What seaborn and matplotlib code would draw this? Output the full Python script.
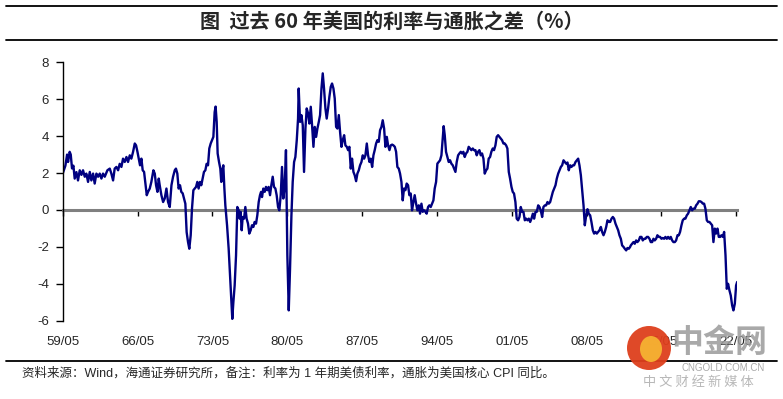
import matplotlib
matplotlib.use("Agg")
import matplotlib.pyplot as plt
from matplotlib.lines import Line2D
from matplotlib.patches import Ellipse
import seaborn as sns
import pandas as pd

# ---------------- data (1-yr Treasury yield minus US core CPI y/y, %) ----------------
yrs_1959 = [1959.33,1959.58,1959.74,1959.83,1959.98,1960.08,1960.20,1960.33,1960.45,1960.61,1960.76,1960.92,
            1961.08,1961.23,1961.39,1961.54,1961.70,1961.86,1962.01,1962.17,1962.32,1962.48,1962.64,1962.79,1962.95,
            1963.10,1963.26,1963.51,1963.73,1963.88,1964.04,1964.19,1964.35,1964.51,1964.66,1964.82,1964.97,
            1965.13,1965.29,1965.44,1965.60,1965.75,1965.91,1966.07,1966.19,1966.32,1966.44,1966.56,1966.69,1966.81,1966.94,
            1967.06,1967.19,1967.31,1967.47,1967.62,1967.81,1967.94,1968.06,1968.19,1968.31,1968.40,1968.56,1968.72,1968.87,
            1969.03,1969.18,1969.34,1969.50,1969.65,1969.81]
val_1959 = [1.97,2.4,3.0,2.6,3.15,3.0,2.25,2.4,1.7,2.05,1.6,2.15,
            1.9,2.15,1.8,1.97,1.52,2.06,1.6,1.97,1.43,1.97,1.8,1.97,1.7,
            1.97,1.8,2.15,2.24,1.97,1.6,2.24,2.33,2.15,2.5,2.33,2.78,
            2.6,2.87,2.6,2.96,2.78,3.15,3.6,3.5,3.15,2.78,2.42,2.78,2.15,2.06,
            1.43,0.8,0.98,1.16,1.52,2.15,1.97,1.34,0.98,1.7,1.34,0.8,0.43,0.62,
            1.16,0.43,0.16,1.34,1.8,2.15]

yrs_1970 = [1969.92,1970.05,1970.17,1970.30,1970.42,1970.55,1970.67,1970.80,1970.92,1971.05,
            1971.17,1971.30,1971.42,1971.55,1971.67,1971.80,1971.92,1972.04,1972.17,1972.29,
            1972.42,1972.54,1972.67,1972.79,1972.92,1973.04,1973.17,1973.29,1973.42,1973.54,
            1973.63,1973.73,1973.82,1973.95,1974.07,1974.16,1974.26,1974.35,1974.45,1974.54,
            1974.70,1974.85,1975.01,1975.10,1975.19,1975.29,1975.41,1975.54,1975.66,1975.79,
            1975.88,1975.97,1976.07,1976.16,1976.29,1976.41,1976.53,1976.66,1976.78,1976.91,
            1977.03,1977.16,1977.28,1977.41,1977.53,1977.66,1977.78,1977.88,
            1977.97,1978.09,1978.22,1978.34,1978.47,1978.59,1978.72,1978.84,1978.97,1979.09,
            1979.22,1979.34,1979.47,1979.59,1979.72,1979.84,1979.96,1980.09,1980.21]
val_1970 = [2.24,1.97,1.16,1.34,0.98,0.9,0.62,0.34,-1.2,-1.74,
            -2.1,-1.37,0.07,1.07,1.16,1.25,1.52,1.16,1.52,1.34,
            1.7,2.06,2.15,2.5,2.42,3.33,3.6,3.78,3.96,5.3,
            5.6,4.77,3.06,2.6,2.24,1.52,2.15,2.42,1.16,0.25,
            -0.83,-2.1,-3.9,-5.0,-5.9,-5.0,-4.1,-2.46,0.16,-0.02,
            -0.47,-0.1,-1.1,-0.38,-0.47,0.16,-0.47,-0.74,-1.28,-1.1,
            -0.83,-0.92,-0.65,-0.74,-0.29,0.43,0.8,0.98,
            0.7,1.16,0.98,1.25,1.07,1.25,0.8,1.34,1.8,1.25,
            1.16,0.8,0.16,-0.02,0.8,2.33,0.62,1.25,3.24]

yrs_1980 = [1980.34,1980.47,1980.59,1980.72,1980.84,1980.97,1981.09,1981.22,1981.34,1981.40,
            1981.53,1981.65,1981.78,1981.90,1982.03,1982.15,1982.28,1982.40,1982.53,1982.65,
            1982.78,1982.90,1983.03,1983.15,1983.28,1983.40,1983.53,1983.65,1983.77,1983.90,
            1984.02,1984.15,1984.27,1984.40,1984.52,1984.65,1984.77,1984.90,1985.02,1985.15,
            1985.27,1985.40,1985.52,1985.65,1985.77,1985.90,1986.02,1986.14,1986.27,1986.39,
            1986.52,1986.64,1986.77,1986.89,1987.02,1987.14,1987.27,1987.39,1987.52,1987.64,
            1987.77,1987.89,1988.02,1988.14,1988.27,1988.39,1988.51,1988.64,1988.76,1988.89,
            1989.01,1989.14,1989.26,1989.39,1989.51,1989.64,1989.76,1989.89,1990.01,1990.14,
            1990.26,1990.39,1990.51,1990.63,1990.76,1990.88,1991.01,1991.13]
val_1980 = [-2.46,-5.44,-3.2,-0.3,1.52,2.6,2.87,3.78,4.95,6.58,
            4.77,5.14,4.6,2.06,4.41,5.5,5.23,4.68,5.59,4.6,
            3.42,4.5,3.96,4.41,4.77,5.14,6.58,7.4,6.58,5.5,
            4.95,5.5,6.13,6.67,6.85,6.58,6.04,4.5,4.41,5.14,
            4.23,3.42,3.78,4.05,3.5,3.42,3.24,3.42,2.24,2.78,
            2.06,1.88,1.56,1.97,2.15,2.42,2.6,2.96,2.78,2.96,
            3.6,2.96,2.6,2.78,2.33,2.96,3.24,3.6,3.78,3.69,
            4.32,4.5,4.86,4.41,3.42,3.96,3.5,3.24,3.5,3.54,
            3.5,3.42,3.15,2.33,2.24,1.97,1.52,0.52]

yrs_1991 = [1991.25,1991.38,1991.50,1991.63,1991.75,1991.88,1992.00,1992.13,1992.25,1992.38,
            1992.50,1992.63,1992.75,1992.88,1993.00,1993.13,1993.25,1993.37,1993.50,1993.62,
            1993.75,1993.87,1994.00,1994.12,1994.25,1994.37,1994.50,1994.62,1994.75,1994.87,
            1994.96,1995.06,1995.18,1995.31,1995.43,1995.56,1995.68,1995.81,1995.93,1996.06,
            1996.18,1996.31,1996.43,1996.56,1996.68,1996.80,1996.93,1997.05,1997.18,1997.30,
            1997.43,1997.55,1997.68,1997.80,1997.93,1998.05,1998.18,1998.30,1998.43,1998.55,
            1998.68,1998.80,1998.93,1999.05,1999.17,1999.30,1999.42,1999.55,1999.67,1999.80,
            1999.92,2000.05,2000.17,2000.30,2000.42,2000.55,2000.67,2000.80,2000.92,2001.05,
            2001.17,2001.30,2001.42,2001.54,2001.67,2001.79]
val_1991 = [1.16,1.07,1.43,1.34,0.8,0.89,-0.02,0.43,0.8,0.34,
            -0.02,0.25,-0.2,0.34,-0.1,-0.02,-0.1,-0.2,0.16,0.25,
            0.16,0.34,0.52,1.16,1.52,2.51,2.6,2.69,2.96,3.87,
            4.54,4.05,3.15,2.87,2.6,2.69,2.51,2.42,2.24,2.06,
            2.6,2.96,3.06,3.15,3.06,3.15,2.87,3.06,3.15,3.42,
            3.33,3.24,3.33,3.24,3.24,2.96,3.15,3.24,2.96,3.06,
            2.78,1.97,2.15,2.24,2.78,2.87,3.15,3.33,3.24,3.5,
            3.96,4.05,3.96,3.87,3.78,3.6,3.6,3.5,3.33,2.06,
            1.7,1.25,0.98,0.89,0.43,-0.47]

yrs_2002 = [2001.92,2002.05,2002.17,2002.30,2002.42,2002.55,2002.67,2002.80,2002.92,2003.05,
            2003.17,2003.30,2003.42,2003.55,2003.67,2003.80,2003.92,2004.04,2004.17,2004.29,
            2004.42,2004.54,2004.67,2004.79,2004.92,2005.04,2005.17,2005.29,2005.42,2005.54,
            2005.67,2005.79,2005.92,2006.04,2006.17,2006.29,2006.41,2006.54,2006.66,2006.79,
            2006.91,2007.04,2007.16,2007.29,2007.41,2007.54,2007.66,2007.79,2007.91,2008.04,
            2008.16,2008.29,2008.41,2008.53,2008.66,2008.78,2008.91,2009.03,2009.16,2009.28,
            2009.41,2009.53,2009.66,2009.78,2009.91,2010.03,2010.16,2010.28,2010.41,2010.53,
            2010.66,2010.78,2010.90,2011.03,2011.15,2011.28,2011.40,2011.53,2011.65,2011.78,
            2011.90,2012.03,2012.15,2012.28,2012.40]
val_2002 = [-0.56,-0.38,0.16,-0.1,-0.1,-0.56,-0.47,-0.56,-0.47,-0.65,
            -0.47,-0.2,-0.47,-0.1,-0.1,0.25,0.16,-0.02,-0.38,0.16,
            0.25,0.25,0.43,0.34,0.43,0.7,0.98,1.16,1.34,1.7,
            1.97,2.15,2.33,2.42,2.69,2.6,2.51,2.57,2.15,2.42,
            2.33,2.42,2.42,2.6,2.69,2.78,2.42,1.88,1.07,0.25,
            -0.83,-0.29,0.04,-0.2,-0.29,-0.65,-1.1,-1.28,-1.19,-1.28,
            -1.19,-1.1,-0.92,-1.19,-1.37,-1.19,-0.92,-0.56,-0.65,-0.65,
            -0.47,-0.38,-0.47,-0.74,-0.92,-1.1,-1.37,-1.56,-1.92,-2.0,
            -2.1,-2.19,-2.06,-2.1,-2.0]

yrs_2012 = [2012.46,2012.58,2012.71,2012.83,2012.96,2013.08,2013.21,2013.33,2013.46,2013.58,
            2013.71,2013.83,2013.96,2014.08,2014.21,2014.33,2014.46,2014.58,2014.70,2014.83,
            2014.95,2015.08,2015.20,2015.33,2015.45,2015.58,2015.70,2015.83,2015.95,2016.08,
            2016.20,2016.33,2016.45,2016.58,2016.70,2016.83,2016.95,2017.07,2017.20,2017.32,
            2017.45,2017.57,2017.70,2017.82,2017.95,2018.07,2018.20,2018.32,2018.45,2018.57,
            2018.70,2018.82,2018.95,2019.07,2019.20,2019.32,2019.44,2019.57,2019.69,2019.82,
            2019.94,2020.07,2020.19,2020.32,2020.44,2020.57,2020.69,2020.82,2020.94,2021.07,
            2021.19,2021.32,2021.44,2021.56,2021.69,2021.81,2021.94,2022.06,2022.19,2022.31,
            2022.41]
val_2012 = [-1.92,-1.83,-1.74,-1.83,-1.65,-1.74,-1.65,-1.46,-1.46,-1.65,
            -1.56,-1.56,-1.46,-1.46,-1.56,-1.74,-1.74,-1.56,-1.65,-1.56,
            -1.37,-1.46,-1.46,-1.56,-1.52,-1.56,-1.46,-1.56,-1.46,-1.56,
            -1.46,-1.65,-1.74,-1.74,-1.65,-1.37,-1.37,-1.19,-0.83,-0.56,
            -0.47,-0.47,-0.29,-0.2,-0.02,0.16,-0.02,0.07,0.07,0.25,
            0.34,0.47,0.47,0.43,0.34,0.34,0.07,-0.56,-0.65,-0.65,
            -0.74,-0.83,-1.74,-1.01,-1.28,-1.01,-1.46,-1.46,-1.37,-1.46,
            -1.19,-2.46,-4.27,-4.0,-4.36,-4.63,-5.17,-5.44,-5.08,-4.09,
            -3.9]

tick_years = [1959.33, 1966.33, 1973.33, 1980.33, 1987.33, 1994.33, 2001.33, 2008.33, 2015.33, 2022.33]
tick_labels = ["59/05", "66/05", "73/05", "80/05", "87/05", "94/05", "01/05", "08/05", "15/05", "22/05"]
y_ticks = [-6, -4, -2, 0, 2, 4, 6, 8]

title = "图  过去 60 年美国的利率与通胀之差（%）"
source = "资料来源：Wind，海通证券研究所，备注：利率为 1 年期美债利率，通胀为美国核心 CPI 同比。"
wm_main = "中金网"
wm_url = "CNGOLD.COM.CN"
wm_sub = "中 文 财 经 新 媒 体"

# ---------------- build frame ----------------
df = pd.DataFrame({
    "year": yrs_1959 + yrs_1970 + yrs_1980 + yrs_1991 + yrs_2002 + yrs_2012,
    "spread": val_1959 + val_1970 + val_1980 + val_1991 + val_2002 + val_2012,
})

sns.set_style("white")
plt.rcParams["font.family"] = ["Liberation Sans", "Noto Sans CJK SC", "DejaVu Sans"]

fig = plt.figure(figsize=(7.83, 3.99), dpi=100)
ax = fig.add_axes([0.0801, 0.1962, 0.8615, 0.6477])

sns.lineplot(data=df, x="year", y="spread", color="#000080", linewidth=1.7, ax=ax, sort=False)

ax.set_xlim(1959.33, 2022.42)
ax.set_ylim(-6, 8)
ax.set_xlabel("")
ax.set_ylabel("")

# y axis
ax.set_yticks(y_ticks)
ax.set_yticklabels([str(v) for v in y_ticks])
ax.tick_params(axis="y", direction="out", length=5, width=1, color="black",
               labelsize=9.5, pad=5, left=True)
for side in ["top", "right"]:
    ax.spines[side].set_visible(False)
ax.spines["left"].set_color("black")
ax.spines["left"].set_linewidth(1.0)

# zero line as bottom spine with ticks, labels at the bottom via secondary axis
ax.spines["bottom"].set_position(("data", 0))
ax.spines["bottom"].set_color("#808080")
ax.spines["bottom"].set_linewidth(2.2)
ax.spines["bottom"].set_zorder(1)
ax.set_xticks(tick_years)
ax.tick_params(axis="x", direction="out", length=4, width=1, color="black",
               labelbottom=False, bottom=True)

sec = ax.secondary_xaxis("bottom")
sec.set_xticks(tick_years)
sec.set_xticklabels(tick_labels)
sec.tick_params(axis="x", length=0, pad=11, labelsize=9.5)
sec.spines["bottom"].set_visible(False)

ax.grid(False)

# title and rules
fig.add_artist(Line2D([0.008, 0.992], [0.985, 0.985], transform=fig.transFigure, color="black", lw=1.3))
fig.add_artist(Line2D([0.008, 0.992], [0.900, 0.900], transform=fig.transFigure, color="black", lw=1.3))
fig.text(0.5, 0.945, title, ha="center", va="center", fontsize=14.5, fontweight="bold",
         family=["Noto Sans CJK SC", "DejaVu Sans"])

fig.add_artist(Line2D([0.008, 0.992], [0.095, 0.095], transform=fig.transFigure, color="black", lw=1.3))
fig.text(0.028, 0.064, source, ha="left", va="center", fontsize=9,
         family=["Liberation Sans", "Noto Sans CJK SC", "DejaVu Sans"])

# watermark (bottom right)
fig.add_artist(Ellipse((649 / 783, 1 - 348 / 399), 44 / 783, 44 / 399, transform=fig.transFigure,
                       facecolor="#de3f1c", edgecolor="none", alpha=0.95, zorder=5))
fig.add_artist(Ellipse((651 / 783, 1 - 349 / 399), 22 / 783, 26 / 399, transform=fig.transFigure,
                       facecolor="#f6b232", edgecolor="none", alpha=0.95, zorder=6))
fig.text(719 / 783, 1 - 343 / 399, wm_main, ha="center", va="center", fontsize=23, fontweight="bold",
         color="#9a9a9a", alpha=0.85, family=["Noto Sans CJK SC"], zorder=6)
fig.text(723 / 783, 1 - 368 / 399, wm_url, ha="center", va="center", fontsize=7,
         color="#a0a0a0", alpha=0.9, zorder=6)
fig.text(698 / 783, 1 - 382 / 399, wm_sub, ha="center", va="center", fontsize=9.5,
         color="#b0b0b0", alpha=0.9, family=["Noto Sans CJK SC"], zorder=6)

fig.savefig("out.png", dpi=100)
